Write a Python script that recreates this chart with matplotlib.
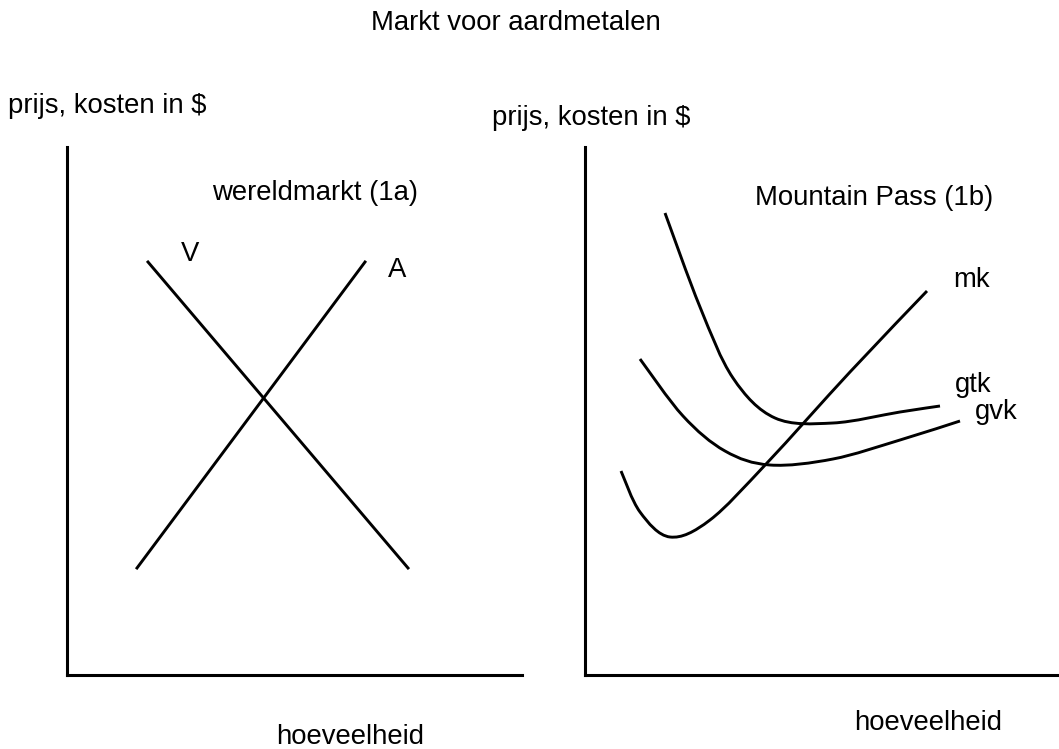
import matplotlib.pyplot as plt
from matplotlib.path import Path
from matplotlib.patches import PathPatch

plt.rcParams['font.family'] = ['Liberation Sans', 'DejaVu Sans']

W, H = 1059, 749

# left panel: wereldmarkt, straight lines V and A (axes units = pixels from origin)
v_x = [81, 341]
v_y = [413, 107]
a_x = [70, 298]
a_y = [107, 413]

# right panel: Mountain Pass cost curves
mk_x = [36, 55, 85, 125, 182, 265, 342]
mk_y = [204, 163, 138, 155, 212, 303, 384]
gtk_x = [80, 115, 148, 190, 248, 315, 355]
gtk_y = [462, 368, 297, 257, 252, 263, 269]
gvk_x = [55, 98, 140, 185, 248, 315, 375]
gvk_y = [316, 259, 224, 210, 216, 235, 254]


def fx(x):
    return x / W


def fy(y):
    return 1 - y / H


def smooth_path(xs, ys):
    # bezier segments through the points (catmull-rom style handles)
    pts = list(zip(xs, ys))
    n = len(pts)
    verts = [pts[0]]
    codes = [Path.MOVETO]
    for i in range(n - 1):
        p0 = pts[i - 1] if i > 0 else pts[i]
        p1 = pts[i]
        p2 = pts[i + 1]
        p3 = pts[i + 2] if i + 2 < n else pts[i + 1]
        c1 = (p1[0] + (p2[0] - p0[0]) / 6, p1[1] + (p2[1] - p0[1]) / 6)
        c2 = (p2[0] - (p3[0] - p1[0]) / 6, p2[1] - (p3[1] - p1[1]) / 6)
        verts += [c1, c2, p2]
        codes += [Path.CURVE4] * 3
    return Path(verts, codes)


def make_axes(fig, left, right):
    ax = fig.add_axes([fx(left), fy(675), fx(right) - fx(left), fy(147) - fy(675)])
    ax.set_xlim(0, right - left)
    ax.set_ylim(0, 528)
    for s in ['top', 'right']:
        ax.spines[s].set_visible(False)
    for s in ['left', 'bottom']:
        ax.spines[s].set_linewidth(2.2)
    ax.set_xticks([])
    ax.set_yticks([])
    ax.patch.set_alpha(0)
    return ax


fig = plt.figure(figsize=(W / 100, H / 100), dpi=100)

ax1 = make_axes(fig, 67, 522)
ax1.plot(v_x, v_y, color='black', lw=2.1)
ax1.plot(a_x, a_y, color='black', lw=2.1)

ax2 = make_axes(fig, 585, 1059)
for xs, ys in [(mk_x, mk_y), (gtk_x, gtk_y), (gvk_x, gvk_y)]:
    ax2.add_patch(PathPatch(smooth_path(xs, ys), fill=False, edgecolor='black', lw=2.1, capstyle='butt'))

fs = 19.8
fig.text(fx(516), fy(23), 'Markt voor aardmetalen', fontsize=fs, ha='center', va='center')
fig.text(fx(8), fy(106), 'prijs, kosten in $', fontsize=fs, ha='left', va='center')
fig.text(fx(492), fy(118), 'prijs, kosten in $', fontsize=fs, ha='left', va='center')
fig.text(fx(212), fy(193), 'wereldmarkt (1a)', fontsize=fs, ha='left', va='center')
fig.text(fx(190), fy(254), 'V', fontsize=fs, ha='center', va='center')
fig.text(fx(397), fy(270), 'A', fontsize=fs, ha='center', va='center')
fig.text(fx(755), fy(198), 'Mountain Pass (1b)', fontsize=fs, ha='left', va='center')
fig.text(fx(953), fy(280), 'mk', fontsize=fs, ha='left', va='center')
fig.text(fx(955), fy(385), 'gtk', fontsize=fs, ha='left', va='center')
fig.text(fx(975), fy(412), 'gvk', fontsize=fs, ha='left', va='center')
fig.text(fx(350), fy(737), 'hoeveelheid', fontsize=fs, ha='center', va='center')
fig.text(fx(928), fy(723), 'hoeveelheid', fontsize=fs, ha='center', va='center')

fig.savefig('out.png', dpi=100)
